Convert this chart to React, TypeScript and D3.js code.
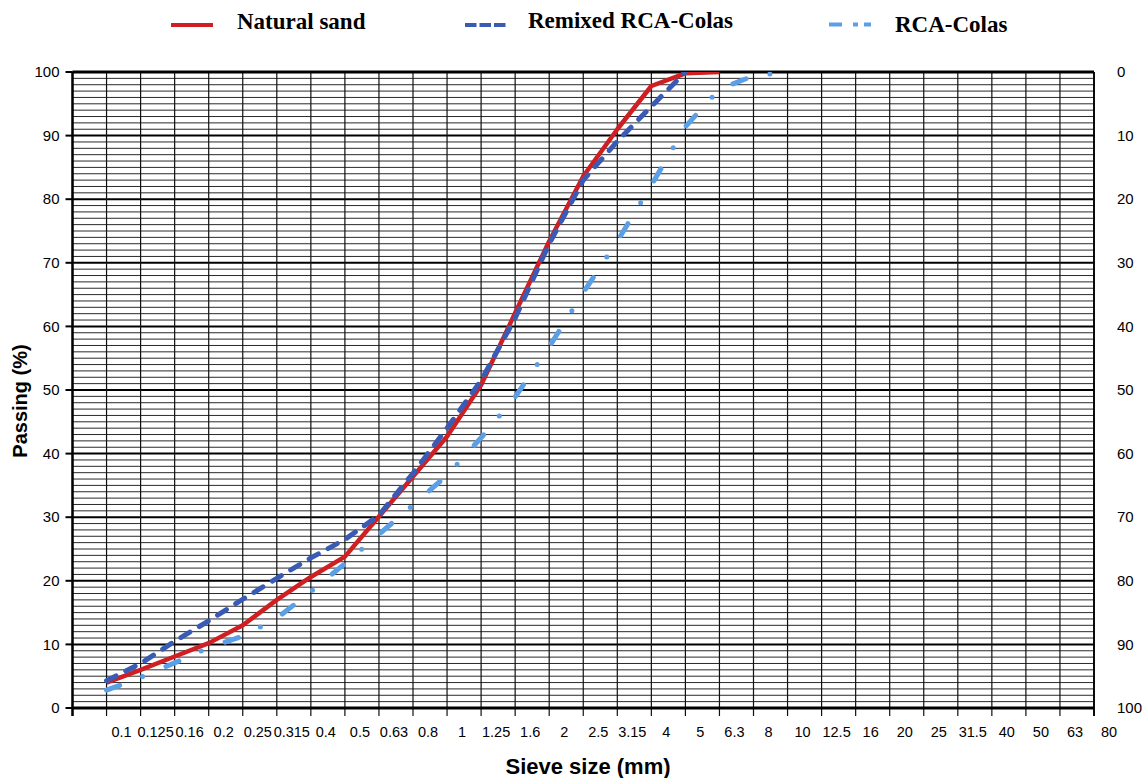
import React, { useEffect, useRef } from "react";
import * as d3 from "d3";

// sieve openings (mm), equally spaced on the chart
const sieveSizes = [
  "0.1", "0.125", "0.16", "0.2", "0.25", "0.315", "0.4", "0.5", "0.63", "0.8",
  "1", "1.25", "1.6", "2", "2.5", "3.15", "4", "5", "6.3", "8",
  "10", "12.5", "16", "20", "25", "31.5", "40", "50", "63", "80",
];

// % passing, one value per sieve starting at 0.1 mm
const naturalSand = [4.0, 6.0, 8.1, 10.2, 13.0, 17.0, 20.6, 23.8, 30.1, 36.4, 42.7, 50.8, 62.1, 73.4, 83.6, 91.0, 97.8, 99.8, 100];
const remixedRcaColas = [4.3, 7.0, 10.5, 13.7, 17.1, 20.4, 23.6, 26.5, 30.3, 36.9, 44.0, 51.5, 61.3, 73.0, 83.0, 89.1, 94.6, 100];
const rcaColas = [2.8, 4.8, 7.1, 9.5, 11.3, 14.1, 18.3, 22.7, 27.3, 31.9, 36.6, 42.5, 48.9, 56.8, 65.3, 73.4, 82.2, 91.4, 97.3, 99.4, 100];

const passingTicks = [0, 10, 20, 30, 40, 50, 60, 70, 80, 90, 100];
const retainedTicks = [0, 10, 20, 30, 40, 50, 60, 70, 80, 90, 100];

const series = [
  { name: "Natural sand", values: naturalSand, color: "#d01f22", dash: null, width: 4.5 },
  { name: "RCA-Colas", values: rcaColas, color: "#5b9fe6", dash: "14 24.5 0 25.5", width: 5 },
  { name: "Remixed RCA-Colas", values: remixedRcaColas, color: "#3a5bb4", dash: "10.5 11", width: 5 },
];

const legendItems = [
  { name: "Natural sand", color: "#d01f22", dash: null, x1: 171, textX: 237, y: 25, ty: 29 },
  { name: "Remixed RCA-Colas", color: "#3a5bb4", dash: "11.5 3", x1: 465, textX: 528, y: 25, ty: 28 },
  { name: "RCA-Colas", color: "#5b9fe6", dash: "13 11 5 6", x1: 829, textX: 895, y: 24.5, ty: 31.5 },
];

const App = () => {
  const chart = useRef<SVGSVGElement>(null);

  useEffect(() => {
    const svg = d3.select(chart.current);
    svg.selectAll("*").remove();

    const left = 72.5, right = 1094, top = 72, bottom = 708;
    const x = d3.scaleLinear().domain([-1, sieveSizes.length - 1]).range([left, right]);
    const y = d3.scaleLinear().domain([0, 100]).range([bottom, top]);
    const yRetained = d3.scaleLinear().domain([0, 100]).range([top, bottom]);

    svg.append("rect").attr("width", 1146).attr("height", 778).attr("fill", "white");

    // horizontal grid, every 1 %
    const grid = svg.append("g");
    grid
      .selectAll("line.minor")
      .data(d3.range(0, 101))
      .join("line")
      .attr("x1", left)
      .attr("x2", right)
      .attr("y1", (d) => y(d))
      .attr("y2", (d) => y(d))
      .attr("stroke", (d) => (d % 10 === 0 ? "#000" : "#2a2a2a"))
      .attr("stroke-width", (d) => (d % 10 === 0 ? 2 : 1));

    // vertical grid on every sieve
    grid
      .selectAll("line.v")
      .data(d3.range(-1, sieveSizes.length))
      .join("line")
      .attr("x1", (d) => x(d))
      .attr("x2", (d) => x(d))
      .attr("y1", top)
      .attr("y2", bottom + 8)
      .attr("stroke", "#111")
      .attr("stroke-width", 1.2);

    // frame
    svg.append("line").attr("x1", left).attr("x2", right).attr("y1", top).attr("y2", top)
      .attr("stroke", "#000").attr("stroke-width", 3);
    svg.append("line").attr("x1", left).attr("x2", right).attr("y1", bottom).attr("y2", bottom)
      .attr("stroke", "#000").attr("stroke-width", 3);
    svg.append("line").attr("x1", left).attr("x2", left).attr("y1", top).attr("y2", bottom + 8)
      .attr("stroke", "#000").attr("stroke-width", 2.5);
    svg.append("line").attr("x1", right).attr("x2", right).attr("y1", top).attr("y2", bottom + 8)
      .attr("stroke", "#000").attr("stroke-width", 1.8);

    // left axis
    const yAxis = svg.append("g");
    yAxis
      .selectAll("line")
      .data(passingTicks)
      .join("line")
      .attr("x1", left - 7)
      .attr("x2", left)
      .attr("y1", (d) => y(d))
      .attr("y2", (d) => y(d))
      .attr("stroke", "#000")
      .attr("stroke-width", 2);
    yAxis
      .selectAll("text")
      .data(passingTicks)
      .join("text")
      .attr("x", left - 13)
      .attr("y", (d) => y(d))
      .attr("dy", "0.35em")
      .attr("text-anchor", "end")
      .attr("font-family", "Liberation Sans, Arial, sans-serif")
      .attr("font-size", 15)
      .text((d) => d);

    // right axis: retained
    svg
      .append("g")
      .selectAll("text")
      .data(retainedTicks)
      .join("text")
      .attr("x", 1117)
      .attr("y", (d) => yRetained(d))
      .attr("dy", "0.35em")
      .attr("font-family", "Liberation Sans, Arial, sans-serif")
      .attr("font-size", 15)
      .text((d) => d);

    // sieve labels
    svg
      .append("g")
      .selectAll("text")
      .data(sieveSizes)
      .join("text")
      .attr("x", (d, i) => x(i) + 15)
      .attr("y", 737)
      .attr("text-anchor", "middle")
      .attr("font-family", "Liberation Sans, Arial, sans-serif")
      .attr("font-size", 14.5)
      .text((d) => d);

    // titles
    svg
      .append("text")
      .attr("x", 588)
      .attr("y", 774)
      .attr("text-anchor", "middle")
      .attr("font-family", "Liberation Sans, Arial, sans-serif")
      .attr("font-weight", "bold")
      .attr("font-size", 22)
      .text("Sieve size (mm)");
    svg
      .append("text")
      .attr("transform", "translate(27,401) rotate(-90)")
      .attr("text-anchor", "middle")
      .attr("font-family", "Liberation Sans, Arial, sans-serif")
      .attr("font-weight", "bold")
      .attr("font-size", 20)
      .text("Passing (%)");

    // curves
    svg
      .append("clipPath")
      .attr("id", "plotClip")
      .append("rect")
      .attr("x", left)
      .attr("y", top)
      .attr("width", right - left)
      .attr("height", bottom - top);

    const line = d3
      .line<number>()
      .x((d, i) => x(i))
      .y((d) => y(d));

    svg
      .append("g")
      .attr("clip-path", "url(#plotClip)")
      .selectAll("path")
      .data(series)
      .join("path")
      .attr("d", (s) => line(s.values))
      .attr("fill", "none")
      .attr("stroke", (s) => s.color)
      .attr("stroke-width", (s) => s.width)
      .attr("stroke-linecap", (s) => (s.dash ? "round" : "butt"))
      .attr("stroke-linejoin", "round")
      .attr("stroke-dasharray", (s) => s.dash);

    // legend
    const legend = svg.append("g").selectAll("g").data(legendItems).join("g");
    legend
      .append("line")
      .attr("x1", (d) => d.x1)
      .attr("x2", (d) => d.x1 + 42)
      .attr("y1", (d) => d.y)
      .attr("y2", (d) => d.y)
      .attr("stroke", (d) => d.color)
      .attr("stroke-width", 4)
      .attr("stroke-dasharray", (d) => d.dash);
    legend
      .append("text")
      .attr("x", (d) => d.textX)
      .attr("y", (d) => d.ty)
      .attr("font-family", "Liberation Serif, Times New Roman, serif")
      .attr("font-weight", "bold")
      .attr("font-size", 23)
      .text((d) => d.name);
  });

  return (
    <div style={{ position: "absolute", left: 0, top: 0 }}>
      <svg ref={chart} width={1146} height={778}></svg>
    </div>
  );
};

export default App;
